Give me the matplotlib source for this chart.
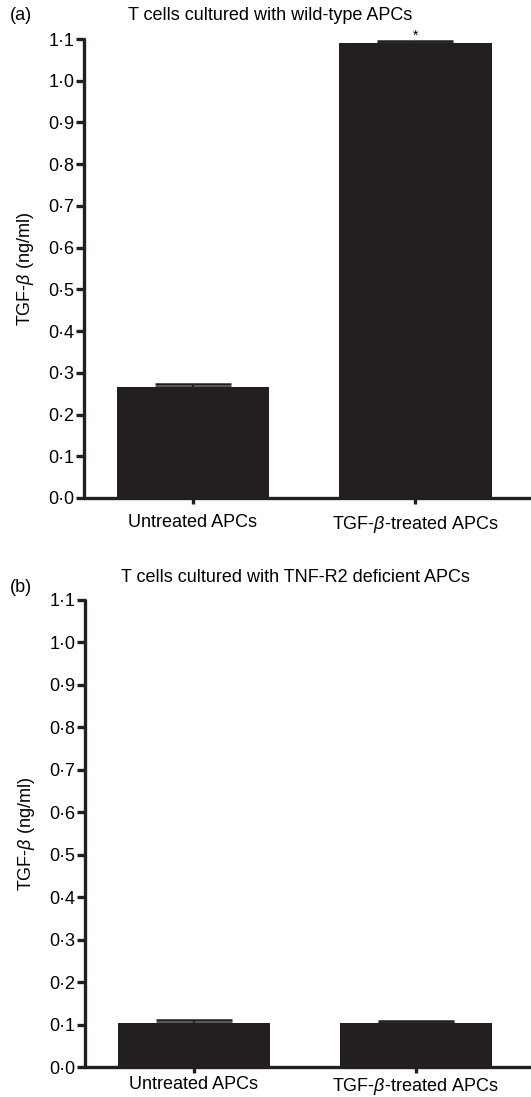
import matplotlib
matplotlib.use("Agg")
import matplotlib.pyplot as plt

plt.rcParams['font.family'] = ['Liberation Sans', 'DejaVu Sans']
plt.rcParams['mathtext.fontset'] = 'custom'
plt.rcParams['mathtext.it'] = 'Liberation Sans:italic'
plt.rcParams['mathtext.rm'] = 'Liberation Sans'

categories = ["Untreated APCs", "TGF-$\\beta$-treated APCs"]
values_a = [0.265, 1.090]
errors_a = [0.009, 0.006]
values_b = [0.104, 0.104]
errors_b = [0.006, 0.005]
yticks = [0.0, 0.1, 0.2, 0.3, 0.4, 0.5, 0.6, 0.7, 0.8, 0.9, 1.0, 1.1]
ytick_labels = [f"{t:.1f}".replace(".", "\u00b7") for t in yticks]
titles = ["T cells cultured with wild-type APCs", "T cells cultured with TNF-R2 deficient APCs"]
panel_labels = ["(a)", "(b)"]
signif_a = ["", "*"]

W, H = 531, 1097
fig = plt.figure(figsize=(W / 100, H / 100), dpi=100)
col = "#231f20"
FS = 13

def make_axes(left, right, top, bottom):
    return fig.add_axes([left / W, 1 - bottom / H, (right - left) / W, (bottom - top) / H])

def style(ax, vals, errs, title, plabel, title_x, title_y, plabel_y, xpad, signif=None):
    x = [0, 1]
    ax.bar(x, vals, width=0.685, color=col, edgecolor='none', zorder=2)
    ax.errorbar(x, vals, yerr=[[0, 0], errs], fmt='none', ecolor=col,
                elinewidth=1.5, capsize=27.5, capthick=1.8, zorder=3, clip_on=False)
    ax.set_xlim(-0.49, 1.52)
    ax.set_ylim(0, 1.1)
    ax.set_yticks(yticks)
    ax.set_yticklabels(ytick_labels, fontsize=FS)
    ax.set_xticks(x)
    ax.set_xticklabels(categories, fontsize=FS)
    for s in ['top', 'right']:
        ax.spines[s].set_visible(False)
    for s in ['left', 'bottom']:
        ax.spines[s].set_linewidth(2.4)
        ax.spines[s].set_color(col)
        ax.spines[s].set_capstyle('round')
    ax.tick_params(axis='y', length=6, width=2.4, color=col, pad=1)
    ax.tick_params(axis='x', length=4, width=2.4, color=col, pad=xpad)
    ax.set_ylabel("TGF-$\\beta$ (ng/ml)", fontsize=FS, labelpad=9)
    fig.text(title_x / W, 1 - title_y / H, title, ha='center', va='center', fontsize=FS)
    fig.text(10 / W, 1 - plabel_y / H, plabel, ha='left', va='center', fontsize=FS)
    if signif:
        for xi, v, e, s in zip(x, vals, errs, signif):
            if s:
                ax.text(xi, v + e - 0.004, s, ha='center', va='bottom', fontsize=10, clip_on=False)

ax1 = make_axes(84, 531, 39, 498)
style(ax1, values_a, errors_a, titles[0], panel_labels[0], 270, 16, 16, 7.5, signif_a)
ax2 = make_axes(85, 531, 600, 1067)
style(ax2, values_b, errors_b, titles[1], panel_labels[1], 295, 578, 587, 2.5)

fig.savefig("out.png", dpi=100)
